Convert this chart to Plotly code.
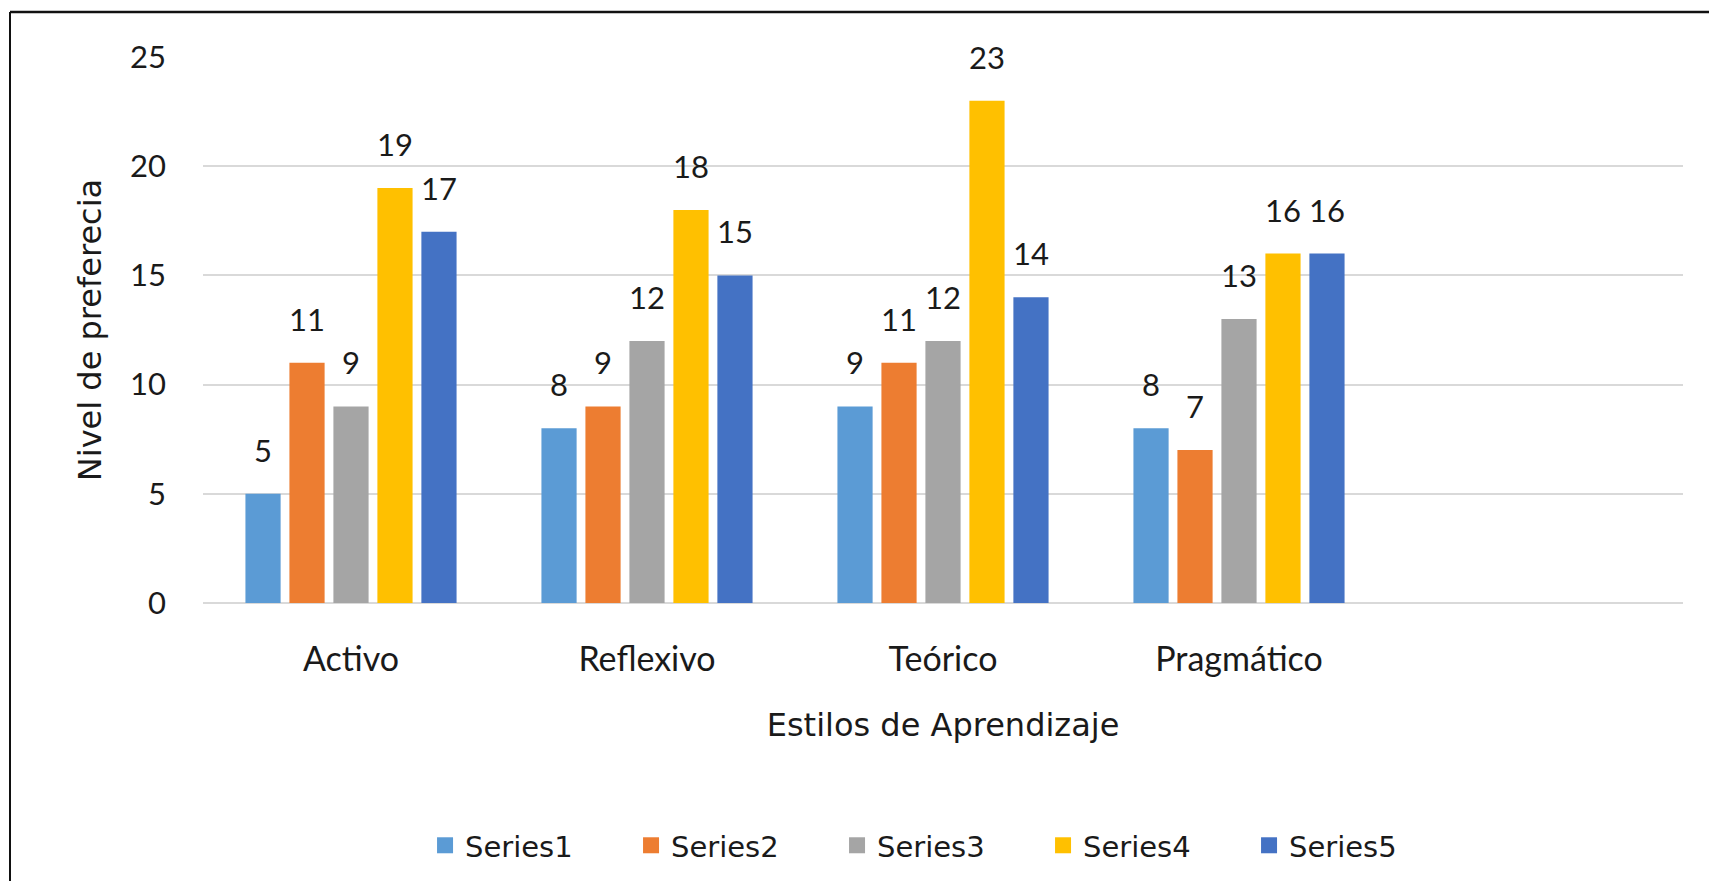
import plotly.graph_objects as go

categories = ["Activo", "Reflexivo", "Teórico", "Pragmático"]
series_names = ["Series1", "Series2", "Series3", "Series4", "Series5"]
series1 = [5, 8, 9, 8]
series2 = [11, 9, 11, 7]
series3 = [9, 12, 12, 13]
series4 = [19, 18, 23, 16]
series5 = [17, 15, 14, 16]
y_ticks = [0, 5, 10, 15, 20, 25]
colors = ["#5B9BD5", "#ED7D31", "#A5A5A5", "#FFC000", "#4472C4"]

W, H = 1717, 881
ML, MR, MT, MB = 195, 42, 49, 286
BARGAP = 0.257
FONT = "Lato, 'Open Sans', sans-serif"
WIDE = "'DejaVu Sans', 'Open Sans', sans-serif"
TXT = "#1a1a1a"

all_series = [series1, series2, series3, series4, series5]

fig = go.Figure()
for name, vals, col in zip(series_names, all_series, colors):
    fig.add_trace(go.Bar(name=name, x=categories, y=vals, showlegend=False,
                         legendgroup=name, marker=dict(color=col, line=dict(width=0))))
# legend entries with square swatches
for name, col in zip(series_names, colors):
    fig.add_trace(go.Scatter(name=name, x=[None], y=[None], mode="markers", legendgroup=name,
                             marker=dict(symbol="square", size=20, color=col)))

# data labels above bars
plot_w = W - ML - MR
plot_h = H - MT - MB
slot = plot_w / 5.0
n = len(all_series)
pitch = slot * (1 - BARGAP) / n
for i, vals in enumerate(all_series):
    for c, v in zip(categories, vals):
        fig.add_annotation(x=c, y=v, xref="x", yref="y", text=str(v), showarrow=False,
                           xshift=(i - (n - 1) / 2) * pitch, yshift=23, yanchor="bottom",
                           font=dict(family=FONT, size=31, color=TXT))

# outer frame (top and left edges visible)
fx = (2 - ML) / plot_w
fy = (H - MB - 4) / plot_h
fig.add_shape(type="line", xref="paper", yref="paper", x0=fx, x1=1.2, y0=fy, y1=fy,
              line=dict(color="#111111", width=2.5))
fig.add_shape(type="line", xref="paper", yref="paper", x0=fx, x1=fx, y0=fy, y1=-0.7,
              line=dict(color="#111111", width=2))

fig.update_layout(
    width=W, height=H,
    margin=dict(l=ML, r=MR, t=MT, b=MB),
    paper_bgcolor="white", plot_bgcolor="white",
    barmode="group", bargap=BARGAP, bargroupgap=0.2,
    font=dict(family=FONT, size=30, color=TXT),
    showlegend=True,
    legend=dict(orientation="h", x=0.498, xanchor="center", y=-0.444, yanchor="middle",
                font=dict(family=WIDE, size=29, color=TXT), entrywidth=161,
                traceorder="normal", itemsizing="trace"),
    xaxis=dict(type="category", categoryorder="array", categoryarray=categories,
               range=[-0.5, 4.5], showgrid=False, zeroline=False, showline=False,
               ticks="", ticklabelstandoff=33,
               tickfont=dict(family=FONT, size=34, color=TXT),
               title=dict(text="Estilos de Aprendizaje", standoff=36,
                          font=dict(family=WIDE, size=32, color=TXT))),
    yaxis=dict(range=[0, 25], tickvals=y_ticks, showgrid=True, gridcolor="#D9D9D9",
               gridwidth=1.5, zeroline=True, zerolinecolor="#D9D9D9", zerolinewidth=1.5,
               showline=False, ticks="", ticklabelstandoff=36,
               tickfont=dict(family=FONT, size=31, color=TXT),
               title=dict(text="Nivel de preferecia", standoff=18,
                          font=dict(family=WIDE, size=32, color=TXT))),
)

fig.write_html("out.html")
